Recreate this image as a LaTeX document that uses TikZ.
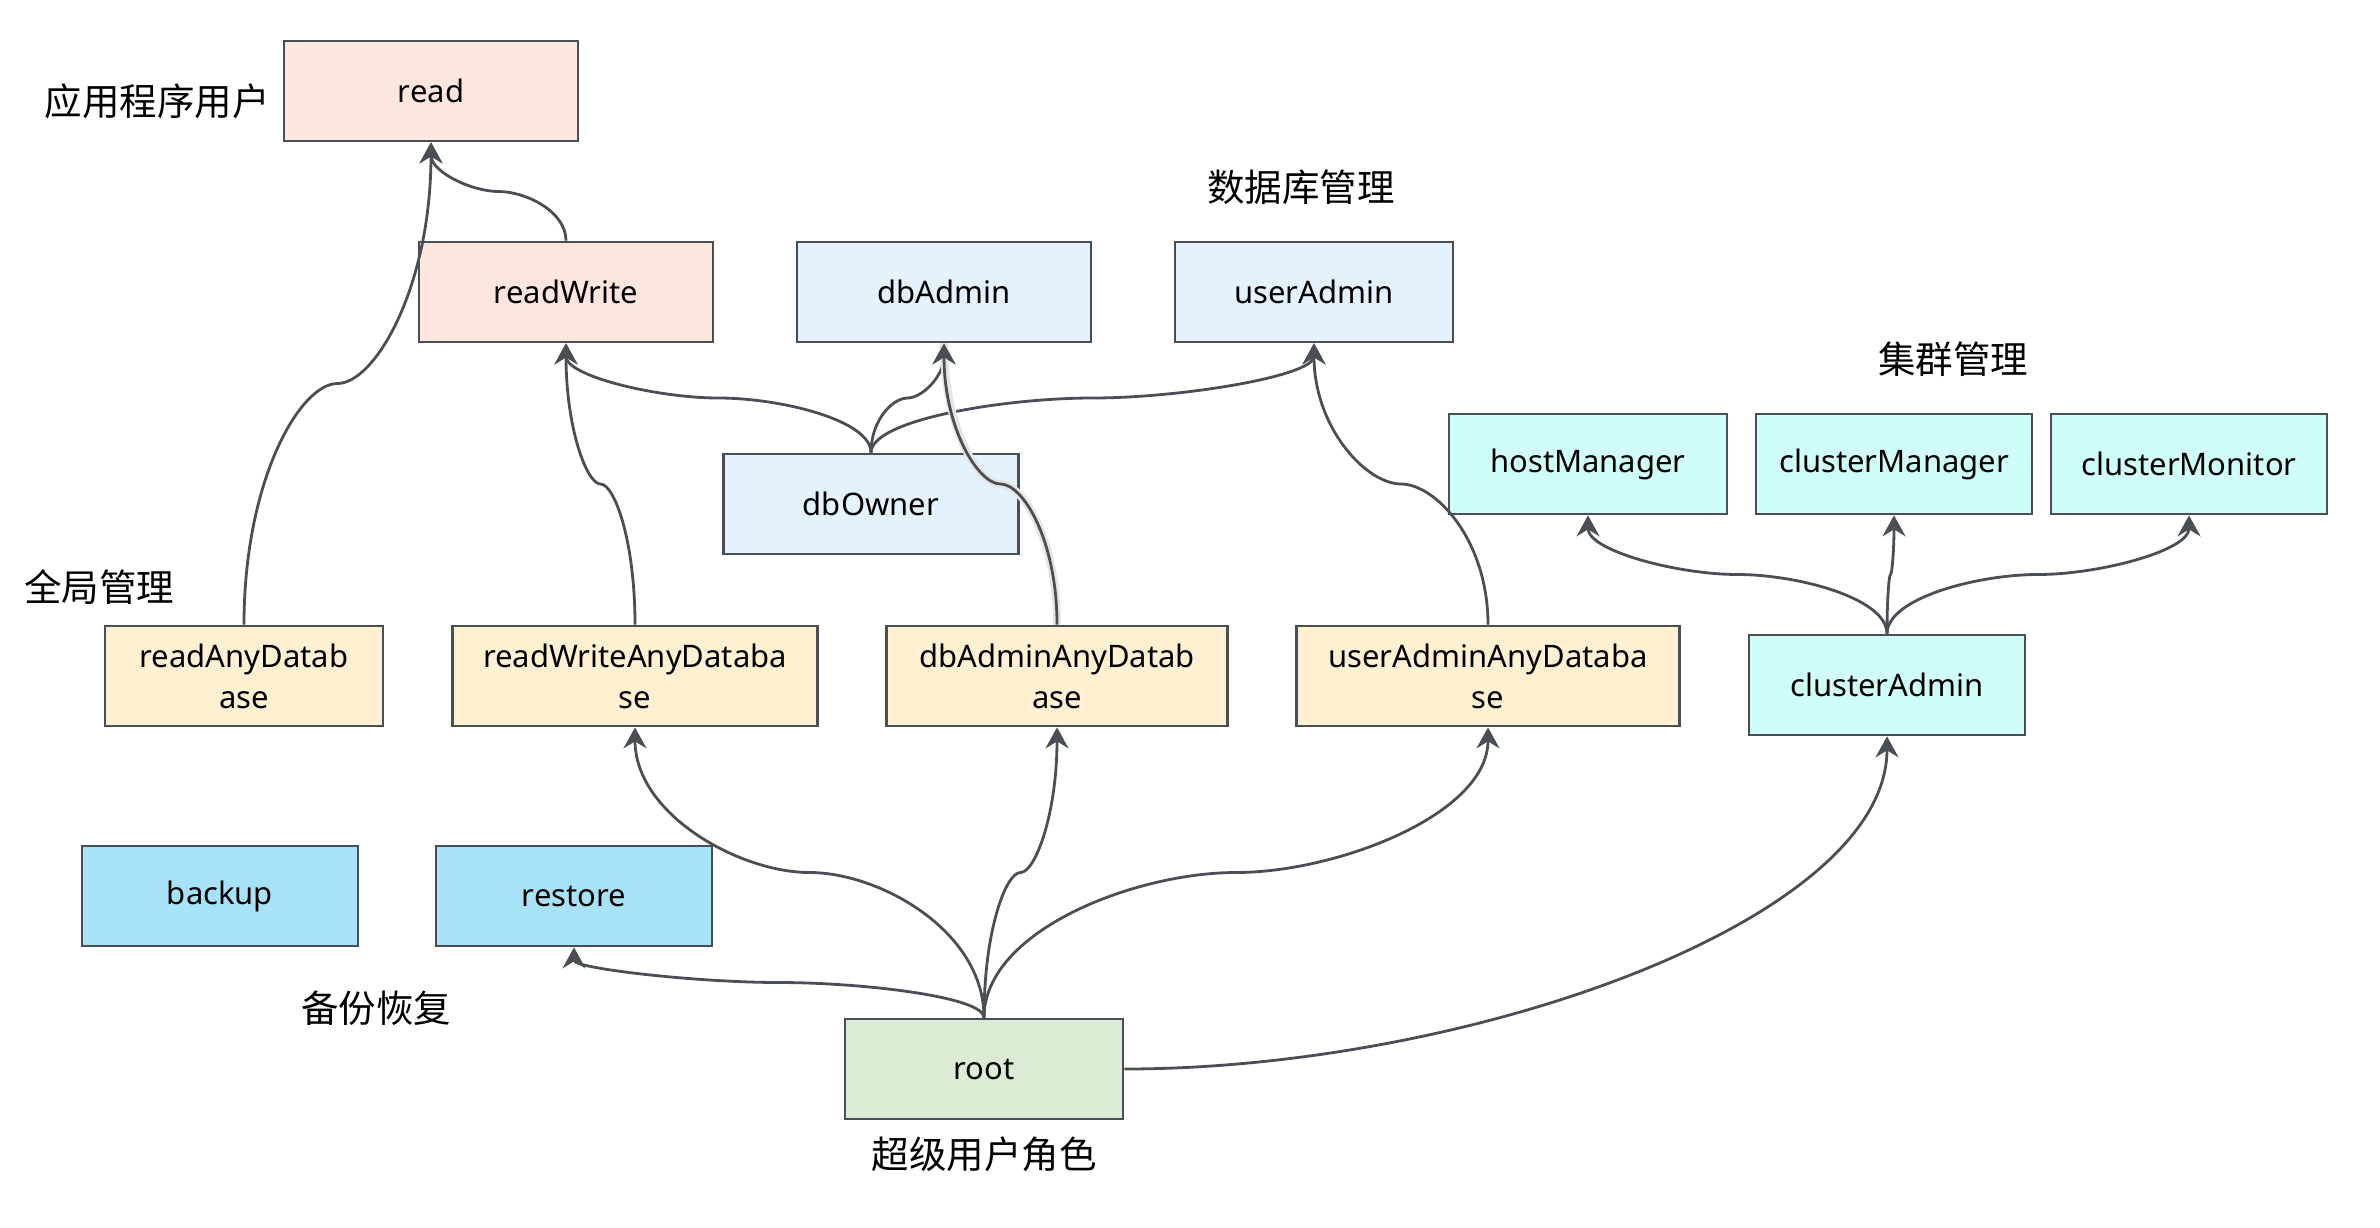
\documentclass[tikz,border=0pt]{standalone}
\usepackage{fontspec}
\setmainfont{Noto Sans}
\newfontfamily\cjk{Noto Sans CJK SC}
\usetikzlibrary{arrows.meta,calc}

\definecolor{lineC}{HTML}{4A4F55}
\definecolor{pinkC}{HTML}{FDE6DD}
\definecolor{paleblueC}{HTML}{E3F2FD}
\definecolor{cyanC}{HTML}{CFFDF7}
\definecolor{sandC}{HTML}{FFF0D2}
\definecolor{skyC}{HTML}{A8E2F8}
\definecolor{greenC}{HTML}{DCEBD4}

\begin{document}
\begin{tikzpicture}[x=1pt,y=-1pt,
  role/.style={draw=lineC, line width=2.7pt, minimum height=100pt, inner sep=0pt,
    align=center, text=black, font=\fontsize{31}{41}\selectfont},
  grouplabel/.style={font=\cjk\fontsize{37.5}{40}\selectfont, text=black, inner sep=0pt},
  edge/.style={draw=lineC, line width=2.8pt, -{Stealth[length=21pt,width=23pt,inset=7pt]}},
  scurve/.style={to path={
    let \p1=(\tikztostart), \p2=(\tikztotarget),
        \p3=($(\tikztostart)!0.5!(\tikztotarget)$) in
    .. controls (\x1,{\y1+0.6*(\y3-\y1)}) and ({\x3-0.4*(\x3-\x1)},\y3) .. (\p3)
    .. controls ({\x3+0.4*(\x2-\x3)},\y3) and (\x2,{\y2+0.6*(\y3-\y2)}) .. (\p2)
    \tikztonodes}}
]
\fill[white] (0,0) rectangle (2380,1227);
\useasboundingbox (0,0) rectangle (2380,1227);

% application users
\node[role, fill=pinkC, minimum width=294pt] (read) at (431,91) {read};
\node[role, fill=pinkC, minimum width=294pt] (rw) at (566,292) {readWrite};

% database administration
\node[role, fill=paleblueC, minimum width=294pt] (dba) at (944,292) {dbAdmin};
\node[role, fill=paleblueC, minimum width=278pt] (ua) at (1314,292) {userAdmin};
\node[role, fill=paleblueC, minimum width=295pt] (dbo) at (871,504) {dbOwner};

% cluster administration
\node[role, fill=cyanC, minimum width=278pt] (hm) at (1588,464) {hostManager};
\node[role, fill=cyanC, minimum width=276pt] (cm) at (1894,464) {clusterManager};
\node[role, fill=cyanC, minimum width=276pt] (cmon) at (2189,464) {clusterMonitor};
\node[role, fill=cyanC, minimum width=276pt] (cadm) at (1887,685) {clusterAdmin};

% all-database roles
\node[role, fill=sandC, minimum width=278pt] (rad) at (244,676) {readAnyDatab\\ase};
\node[role, fill=sandC, minimum width=365pt] (rwad) at (635,676) {readWriteAnyDataba\\se};
\node[role, fill=sandC, minimum width=341pt] (dbaad) at (1057,676) {dbAdminAnyDatab\\ase};
\node[role, fill=sandC, minimum width=383pt] (uaad) at (1488,676) {userAdminAnyDataba\\se};

% backup and restore
\node[role, fill=skyC, minimum width=276pt] (bk) at (220,896) {backup};
\node[role, fill=skyC, minimum width=276pt] (rs) at (574,896) {restore};

% superuser
\node[role, fill=greenC, minimum width=278pt] (root) at (984,1069) {root};

% group captions
\node[grouplabel] (capApp) at (157,101) {应用程序用户};
\node[grouplabel] (capDb) at (1301,187) {数据库管理};
\node[grouplabel] (capCl) at (1953,359) {集群管理};
\node[grouplabel] (capAll) at (99,587) {全局管理};
\node[grouplabel] (capBk) at (376,1008) {备份恢复};
\node[grouplabel] (capRoot) at (984,1154) {超级用户角色};

% inheritance links
\draw[edge] (rw.north) to[scurve] (read.south);
\draw[edge] (rad.north) to[scurve] (read.south);
\draw[edge] (dbo.north) to[scurve] (rw.south);
\draw[edge] (dbo.north) to[scurve] (dba.south);
\draw[edge] (dbo.north) to[scurve] (ua.south);
\draw[edge] (rwad.north) to[scurve] (rw.south);
\draw[edge, preaction={draw=black!10, line width=8pt, arrows=-}] (dbaad.north) to[scurve] (dba.south);
\draw[edge] (uaad.north) to[scurve] (ua.south);
\draw[edge] (cadm.north) to[scurve] (hm.south);
\draw[edge] (cadm.north) to[scurve] (cm.south);
\draw[edge] (cadm.north) to[scurve] (cmon.south);
\draw[edge] (root.north) to[scurve] (rs.south);
\draw[edge] (root.north) to[scurve] (rwad.south);
\draw[edge] (root.north) to[scurve] (dbaad.south);
\draw[edge] (root.north) to[scurve] (uaad.south);
\draw[edge] (root.east) .. controls ($(root.east)+(344pt,0pt)$) and ($(cadm.south)+(0pt,-184pt)$) .. (cadm.south);
\end{tikzpicture}
\end{document}
